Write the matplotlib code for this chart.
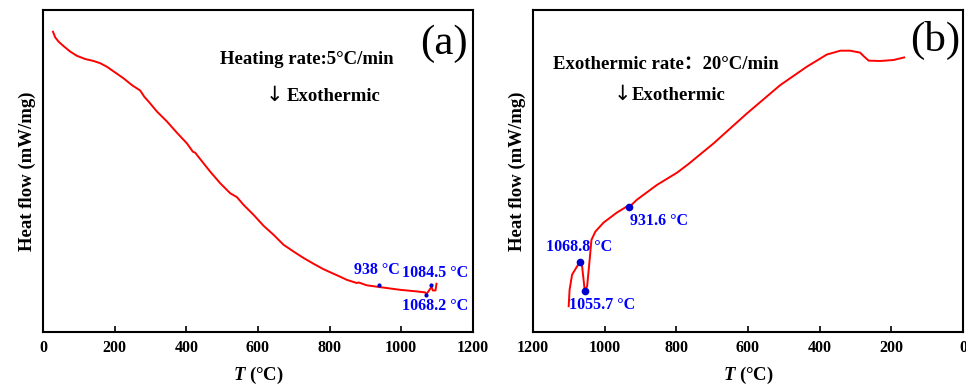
import matplotlib.pyplot as plt

plt.rcParams['font.family'] = ['Liberation Serif', 'Noto Sans CJK SC', 'DejaVu Sans']
plt.rcParams['font.weight'] = 'bold'
plt.rcParams['mathtext.fontset'] = 'custom'
plt.rcParams['mathtext.it'] = 'Liberation Serif:italic:bold'

# (a) heating at 5 C/min, heat flow in arbitrary units
heat_t = [27.8, 34.3, 43.6, 57.6, 76.2, 94.8, 118, 141.3, 159.9, 178.5, 201.8, 225,
          248.3, 271.5, 282.7, 294.8, 318, 346, 373.9, 401.8, 418.5, 425, 439, 466.9,
          494.8, 522.7, 541.3, 559.9, 587.8, 615.7, 643.6, 671.5, 699.4, 727.3, 755.2,
          783.1, 811, 823.2, 848.3, 876.2, 880.8, 904.1, 936.6, 997.1, 1043.6, 1066.9,
          1070, 1079, 1084.6, 1088.3, 1095.7, 1098.5]
heat_q = [93.3, 91.5, 90.2, 88.8, 87.1, 85.8, 84.8, 84.2, 83.5, 82.4, 80.6, 78.8,
          76.7, 75.0, 73.1, 71.6, 68.5, 65.4, 61.9, 58.6, 56.0, 55.7, 53.7, 49.8,
          46.2, 43.1, 41.9, 39.5, 36.4, 33.0, 30.2, 27.1, 25.0, 23.0, 21.2,
          19.5, 18.1, 17.5, 16.2, 15.2, 15.4, 14.5, 14.0, 13.1, 12.6, 12.3,
          11.7, 13.1, 14.0, 12.9, 12.9, 15.0]
heat_pk_t = [938, 1084.5, 1068.2]
heat_pk_q = [14.6, 14.6, 11.5]
heat_pk_lbl = ['938 °C', '1084.5 °C', '1068.2 °C']

# (b) cooling at 20 C/min
cool_t = [1100.5, 1098, 1091, 1077, 1069.8, 1063, 1057, 1055.7, 1049, 1042, 1037, 1026,
          1003, 966, 938, 931.6, 910, 854, 798, 766, 696, 603, 510, 436, 380, 342, 315,
          287, 277, 263, 231, 194, 164]
cool_q = [8.0, 13.1, 17.8, 20.4, 21.6, 20.4, 14.2, 12.8, 14.2, 22.4, 28.6, 31.2, 34.0,
          37.1, 39.0, 38.8, 41.1, 45.7, 49.5, 52.2, 58.6, 67.9, 76.7, 82.4, 86.2, 87.4,
          87.4, 86.8, 85.7, 84.3, 84.2, 84.5, 85.3]
cool_pk_t = [1068.8, 1055.7, 931.6]
cool_pk_q = [21.6, 12.8, 38.8]
cool_pk_lbl = ['1068.8 °C', '1055.7 °C', '931.6 °C']

fig = plt.figure(figsize=(9.66, 3.85), dpi=100)
ax1 = fig.add_axes([0.0445, 0.1377, 0.445, 0.836])
ax2 = fig.add_axes([0.5518, 0.1377, 0.445, 0.836])

ax1.plot(heat_t, heat_q, color='red', lw=1.4)
ax1.plot(heat_pk_t, heat_pk_q, 'o', color='#0000cc', ms=2)
ax1.text(932, 19.3, heat_pk_lbl[0], color='blue', fontsize=11.5, ha='center', va='center')
ax1.text(1095, 18.3, heat_pk_lbl[1], color='blue', fontsize=11.5, ha='center', va='center')
ax1.text(1095, 8.2, heat_pk_lbl[2], color='blue', fontsize=11.5, ha='center', va='center')
ax1.text(737, 84.7, 'Heating rate:5°C/min', fontsize=13.5, ha='center', va='center')
ax1.text(645, 73.6, '↓', fontsize=15, fontweight='normal', family=['DejaVu Sans'],
         ha='center', va='center')
ax1.text(679, 73.1, 'Exothermic', fontsize=13.5, ha='left', va='center')
ax1.text(1187, 89.7, '(a)', fontsize=31, fontweight='normal', ha='right', va='center')
ax1.set_xlim(0, 1200)
ax1.set_xticks([0, 200, 400, 600, 800, 1000, 1200])

ax2.plot(cool_t, cool_q, color='red', lw=1.4)
ax2.plot(cool_pk_t, cool_pk_q, 'o', color='#0000cc', ms=4.5)
ax2.text(1072, 26.4, cool_pk_lbl[0], color='blue', fontsize=11.5, ha='center', va='center')
ax2.text(1008, 8.5, cool_pk_lbl[1], color='blue', fontsize=11.5, ha='center', va='center')
ax2.text(849, 34.5, cool_pk_lbl[2], color='blue', fontsize=11.5, ha='center', va='center')
ax2.text(829, 83.2, 'Exothermic rate：20°C/min', fontsize=13.5, ha='center', va='center')
ax2.text(950, 74.1, '↓', fontsize=15, fontweight='normal', family=['DejaVu Sans'],
         ha='center', va='center')
ax2.text(925, 73.6, 'Exothermic', fontsize=13.5, ha='left', va='center')
ax2.text(8, 90.7, '(b)', fontsize=31, fontweight='normal', ha='right', va='center')
ax2.set_xlim(1200, 0)
ax2.set_xticks([1200, 1000, 800, 600, 400, 200, 0])

for ax in (ax1, ax2):
    ax.set_ylim(0, 100)
    ax.set_yticks([])
    ax.tick_params(axis='x', direction='in', length=4, width=1.2, labelsize=11.5, pad=6)
    for lbl in ax.get_xticklabels():
        lbl.set_fontweight('bold')
    for s in ax.spines.values():
        s.set_linewidth(1.5)
    ax.set_ylabel('Heat flow (mW/mg)', fontsize=13.5, fontweight='bold', labelpad=5)
    ax.set_xlabel(r'$T$ (°C)', fontsize=13.5, fontweight='bold', labelpad=6)

fig.savefig('out.png', dpi=100)
